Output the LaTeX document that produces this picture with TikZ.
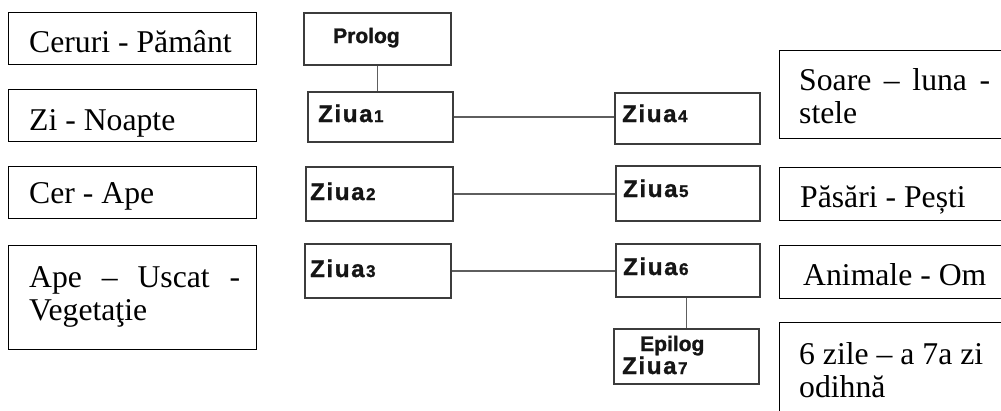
\documentclass[tikz,border=0pt]{standalone}
\usepackage{fontspec}
\setmainfont{Liberation Serif}
\newfontfamily\daysans{Liberation Sans Bold}[FakeBold=1.2]
\newfontfamily\dayspaced{Liberation Sans Bold}[FakeBold=1.2, LetterSpace=7]
\usetikzlibrary{calc}

\definecolor{dayline}{HTML}{3C3C3C}
\definecolor{linkgray}{HTML}{5E5E5E}
\definecolor{daytext}{HTML}{151515}

% day label: large "Ziua" followed by a smaller digit
\newcommand{\daylbl}[1]{{\dayspaced\fontsize{24}{24}\selectfont Ziua}\kern1.5pt{\daysans\fontsize{17}{17}\selectfont #1}}
\newcommand{\framelbl}[1]{{\daysans\fontsize{21}{21}\selectfont #1}}

\tikzset{
  notebox/.style={draw=black, line width=1.1pt, inner sep=0pt, anchor=north west},
  daybox/.style={draw=dayline, line width=1.5pt, fill=white, inner sep=0pt, anchor=north west},
  link/.style={draw=linkgray, line width=1.5pt},
  serif/.style={inner sep=0pt, anchor=base west, font=\fontsize{31.7}{33}\selectfont, text=black},
  sans/.style={inner sep=0pt, anchor=base west, text=daytext},
}

\begin{document}
\begin{tikzpicture}[x=1pt, y=-1pt]
\useasboundingbox (0,0) rectangle (1001,410);
\clip (0,0) rectangle (1001,410);
\fill[white] (0,0) rectangle (1001,410);

% left column: what was made on each day
\node[notebox, minimum width=248, minimum height=52] (c1) at (8,12) {};
\node[serif] (c1t) at (29,52) {Ceruri - Pământ};
\node[notebox, minimum width=248, minimum height=52] (c2) at (8,89) {};
\node[serif] (c2t) at (29,130) {Zi - Noapte};
\node[notebox, minimum width=248, minimum height=52] (c3) at (8,166) {};
\node[serif] (c3t) at (29,203) {Cer - Ape};
\node[notebox, minimum width=248, minimum height=104] (c4) at (8,245) {};
\node[serif] (c4a) at (29,287) {\makebox[211pt][s]{Ape \hfill – \hfill Uscat \hfill -}};
\node[serif] (c4b) at (29,320) {Vegetaţie};

% right column (boxes run past the right edge)
\node[notebox, minimum width=260, minimum height=88] (r1) at (779,50) {};
\node[serif] (r1a) at (799,90) {\makebox[191pt][s]{Soare \hfill – \hfill luna \hfill -}};
\node[serif] (r1b) at (799,123) {stele};
\node[notebox, minimum width=260, minimum height=53] (r2) at (779,167) {};
\node[serif] (r2t) at (800,207) {Păsări - Pești};
\node[notebox, minimum width=260, minimum height=53] (r3) at (779,245) {};
\node[serif] (r3t) at (803,285) {Animale - Om};
\node[notebox, minimum width=260, minimum height=120] (r4) at (779,322) {};
\node[serif] (r4a) at (799,364) {6 zile – a 7a zi};
\node[serif] (r4b) at (799,397) {odihnă};

% the days
\node[daybox, minimum width=147, minimum height=52] (pro) at (303,12) {};
\node[sans] (prot) at (333,43) {\framelbl{Prolog}};
\node[daybox, minimum width=145, minimum height=50] (z1) at (307,91) {};
\node[sans] (z1t) at (318,122) {\daylbl{1}};
\node[daybox, minimum width=147, minimum height=54] (z2) at (305,166) {};
\node[sans] (z2t) at (310,200) {\daylbl{2}};
\node[daybox, minimum width=146, minimum height=54] (z3) at (304,243) {};
\node[sans] (z3t) at (310,277) {\daylbl{3}};
\node[daybox, minimum width=145, minimum height=51] (z4) at (614,92) {};
\node[sans] (z4t) at (622,122) {\daylbl{4}};
\node[daybox, minimum width=144, minimum height=55] (z5) at (615,165) {};
\node[sans] (z5t) at (623,197) {\daylbl{5}};
\node[daybox, minimum width=144, minimum height=53] (z6) at (615,243) {};
\node[sans] (z6t) at (623,275) {\daylbl{6}};
\node[daybox, minimum width=145, minimum height=55] (ep) at (613,328) {};
\node[sans] (ept) at (640,351) {\framelbl{Epilog}};
\node[sans] (ep7) at (622,374) {\daylbl{7}};

% links between the days
\draw[link] (pro.south) -- (pro.south |- z1.north);
\draw[link] (z1.east) -- (z1.east -| z4.west);
\draw[link] (z2.east) -- (z2.east -| z5.west);
\draw[link] (z3.east) -- (z3.east -| z6.west);
\draw[link] (ep.north) -- (ep.north |- z6.south);
\end{tikzpicture}
\end{document}
